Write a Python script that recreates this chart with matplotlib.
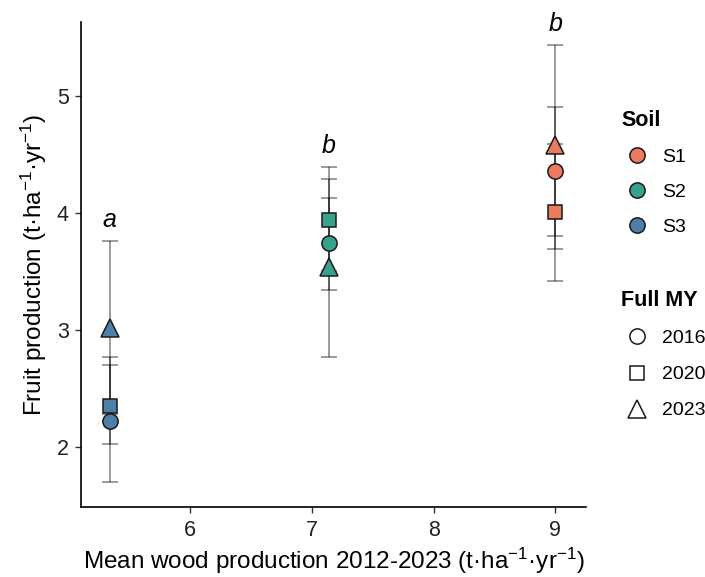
import numpy as np
import matplotlib
matplotlib.use("Agg")
import matplotlib.pyplot as plt
from matplotlib.lines import Line2D

plt.rcParams['font.family'] = ['Liberation Sans', 'DejaVu Sans']
plt.rcParams['mathtext.fontset'] = 'custom'
plt.rcParams['mathtext.rm'] = 'Liberation Sans'
plt.rcParams['mathtext.it'] = 'Liberation Sans:italic'

# data
soils = ["S1", "S2", "S3"]
years = ["2016", "2020", "2023"]
wood = [9.00, 7.14, 5.34]  # mean wood production per soil
# fruit production, rows = soil, cols = year
fruit = [[4.36, 4.01, 4.58],
         [3.74, 3.94, 3.54],
         [2.22, 2.35, 3.02]]
lower = [[3.80, 3.42, 3.69],
         [3.34, 3.50, 2.77],
         [1.70, 2.03, 2.28]]
upper = [[4.90, 4.59, 5.43],
         [4.13, 4.39, 4.29],
         [2.77, 2.70, 3.76]]
letters = ["b", "b", "a"]

colors = ["#EC7A5F", "#36A18D", "#4D7FA8"]
markers = ["o", "s", "^"]
msizes = [11, 10.5, 12.5]

fig = plt.figure(figsize=(7.05, 5.77), dpi=100)
ax = fig.add_axes([0.1156, 0.1213, 0.7154, 0.8407])

for i, s in enumerate(soils):
    for j, y in enumerate(years):
        f = fruit[i][j]
        err = [[f - lower[i][j]], [upper[i][j] - f]]
        ax.errorbar(wood[i], f, yerr=err, fmt='none', ecolor='black',
                    alpha=0.5, elinewidth=1.1, capsize=5.5, capthick=1.1, zorder=2)
    for j, y in enumerate(years):
        ax.plot(wood[i], fruit[i][j], marker=markers[j], ms=msizes[j],
                mfc=colors[i], mec='#1a1a1a', mew=1.1, ls='none', zorder=3)
    ax.text(wood[i], max(upper[i]) + 0.08, letters[i], ha='center', va='bottom',
            fontsize=18, fontstyle='italic')

ax.set_xlim(5.107, 9.25)
ax.set_ylim(1.49, 5.63)
ax.set_xticks([6, 7, 8, 9])
ax.set_yticks([2, 3, 4, 5])
for sp in ['top', 'right']:
    ax.spines[sp].set_visible(False)
for sp in ['left', 'bottom']:
    ax.spines[sp].set_linewidth(1.2)
ax.tick_params(axis='both', labelsize=15.5, length=4, width=1.0, color='#333333',
               labelcolor='#222222', pad=5)
ax.set_xlabel("Mean wood production 2012-2023 (t·ha$^{-1}$·yr$^{-1}$)", fontsize=17.5, labelpad=4)
ax.set_ylabel("Fruit production (t·ha$^{-1}$·yr$^{-1}$)", fontsize=17.5, labelpad=6)

soil_handles = [Line2D([], [], marker='o', ls='none', ms=11, mfc=c, mec='#1a1a1a', mew=1.1)
                for c in colors]
year_handles = [Line2D([], [], marker=m, ls='none', ms=ms, mfc='none', mec='#1a1a1a', mew=1.1)
                for m, ms in zip(markers, msizes)]

leg1 = ax.legend(soil_handles, soils, title="Soil", loc='upper left',
                 bbox_to_anchor=(1.055, 0.835), frameon=False, fontsize=14,
                 alignment='left', labelspacing=0.9, handletextpad=0.5,
                 handlelength=1.6, borderaxespad=0)
leg1.get_title().set_fontweight('bold')
leg1.get_title().set_fontsize(15.5)
ax.add_artist(leg1)
leg2 = ax.legend(year_handles, years, title="Full MY", loc='upper left',
                 bbox_to_anchor=(1.055, 0.463), frameon=False, fontsize=14,
                 alignment='left', labelspacing=0.95, handletextpad=0.5,
                 handlelength=1.6, borderaxespad=0)
leg2.get_title().set_fontweight('bold')
leg2.get_title().set_fontsize(15.5)

fig.savefig("out.png", dpi=100)
